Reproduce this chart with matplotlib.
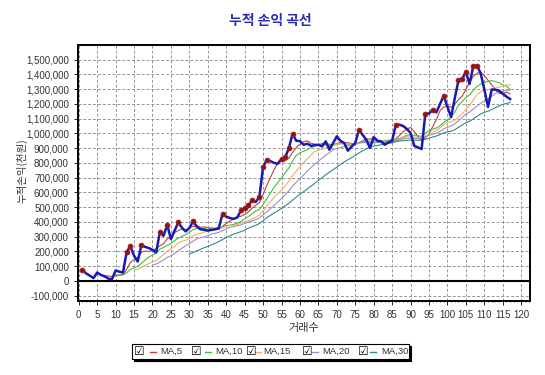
import numpy as np
import pandas as pd
import matplotlib
matplotlib.use("Agg")
import matplotlib.pyplot as plt
from matplotlib.lines import Line2D
from matplotlib.patches import Rectangle
from matplotlib.ticker import MultipleLocator, FuncFormatter

# cumulative profit per trade (thousand won)
trades = np.arange(1, 118)
equity_k = [
    75, 50, 35, 18, 56, 40, 30, 15, 10, 70,
    62, 56, 195, 235, 170, 131, 242, 230, 222, 210,
    192, 330, 305, 380, 283, 340, 396, 360, 335, 358,
    403, 370, 350, 346, 341, 345, 350, 358, 455, 435,
    426, 420, 430, 477, 496, 511, 545, 535, 568, 772,
    821, 812, 800, 794, 828, 838, 900, 998, 950, 948,
    923, 930, 916, 920, 923, 912, 946, 889, 935, 980,
    950, 935, 883, 910, 935, 1025, 990, 957, 901, 975,
    950, 946, 923, 940, 950, 1059, 1059, 1050, 1030, 1003,
    916, 905, 894, 1133, 1135, 1161, 1143, 1200, 1256, 1180,
    1111, 1240, 1360, 1371, 1417, 1336, 1455, 1460, 1410, 1300,
    1180, 1297, 1297, 1290, 1270, 1250, 1233,
]
marked_trades = [1, 13, 14, 17, 22, 24, 27, 31, 39, 44, 45, 46, 47, 49, 50, 51,
                 55, 56, 57, 58, 76, 86, 94, 96, 99, 103, 104, 105, 107, 108]

ma_windows = [5, 10, 15, 20, 30]
ma_labels = ["MA,5", "MA,10", "MA,15", "MA,20", "MA,30"]
ma_colors = ["#c04040", "#40c040", "#f0b060", "#9a90c8", "#308890"]
y_ticks = np.arange(-100000, 1500001, 100000)

equity = pd.Series(np.array(equity_k) * 1000.0, index=trades)

fig = plt.figure(figsize=(5.45, 3.75), dpi=100)
ax = fig.add_axes([0.1431, 0.197, 0.9725 - 0.1431, 0.683])

for w, c in zip(ma_windows, ma_colors):
    ma = equity.rolling(w).mean()
    ax.plot(ma.index, ma.values, color=c, lw=0.8, zorder=2)

ax.plot(equity.index, equity.values, color="#1a1ab0", lw=1.8, zorder=3)
ax.plot(marked_trades, equity.loc[marked_trades].values, ls="none", marker="o",
        ms=3.6, mfc="#8b1515", mec="#a82828", mew=0.5, zorder=4)

ax.axhline(0, color="black", lw=1.5, zorder=2)

ax.set_xlim(-0.2, 122.4)
ax.set_ylim(-138000, 1600000)
ax.xaxis.set_major_locator(MultipleLocator(5))
ax.xaxis.set_minor_locator(MultipleLocator(1))
ax.set_yticks(y_ticks)
ax.yaxis.set_major_formatter(FuncFormatter(lambda v, p: f"{int(round(v)):,}"))

ax.grid(True, which="major", color="#959595", ls=(0, (3, 2)), lw=0.7)
ax.set_axisbelow(True)
for s in ax.spines.values():
    s.set_linewidth(1.4)
    s.set_color("black")

ax.tick_params(axis="both", which="major", labelsize=7, length=3, width=0.7,
               colors="#222222", labelcolor="#333333", direction="out")
ax.tick_params(axis="x", which="minor", length=2, width=0.5, direction="inout")
for lab in ax.get_xticklabels() + ax.get_yticklabels():
    lab.set_fontfamily("Liberation Sans")

kr = ["Noto Sans CJK KR", "DejaVu Sans"]
fig.text(0.497, 0.945, "누적 손익 곡선", ha="center", va="center", fontsize=10,
         fontweight="bold", color="#2a2ab8", family=kr)
ax.set_ylabel("누적손익(천원)", fontsize=7.5, family=kr, color="#333333")
ax.yaxis.set_label_coords(-0.111, 0.51)
ax.set_xlabel("거래수", fontsize=8, family=kr, color="#333333", labelpad=2)

# legend box with check boxes
box_x0, box_y0, box_w, box_h = 132 / 545, 1 - 359 / 375, 277 / 545, 15 / 375
fig.patches.append(Rectangle((box_x0 + 2 / 545, box_y0 - 2 / 375), box_w, box_h,
                             transform=fig.transFigure, fc="black", ec="black", lw=0.8))
fig.patches.append(Rectangle((box_x0, box_y0), box_w, box_h, transform=fig.transFigure,
                             fc="white", ec="black", lw=0.8))
check_x = [139, 196, 251, 307, 363]
dash_x = [153, 208, 258, 315, 373]
text_x = [160, 215, 263, 322, 381]
yc = 1 - 351.5 / 375
for cx, dx, tx, lab, c in zip(check_x, dash_x, text_x, ma_labels, ma_colors):
    fig.text(cx / 545, yc, "\u2611", ha="center", va="center", fontsize=8.5,
             family="DejaVu Sans", color="black")
    fig.lines.append(Line2D([(dx - 3) / 545, (dx + 3) / 545], [yc, yc],
                            transform=fig.transFigure, color=c, lw=1.0))
    fig.text(tx / 545, yc, lab, ha="left", va="center", fontsize=6.8,
             family="Liberation Sans", color="#333333")

fig.savefig("out.png", dpi=100)
